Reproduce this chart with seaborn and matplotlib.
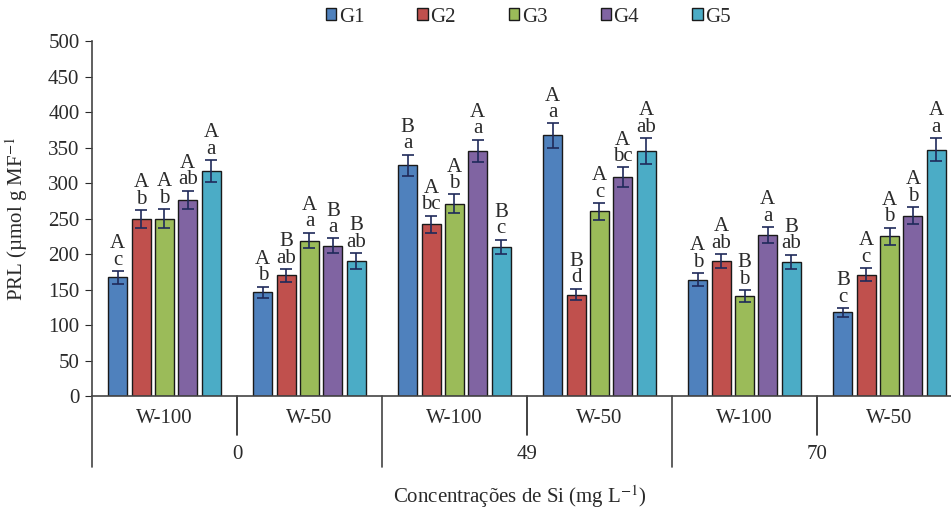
import numpy as np
import pandas as pd
import matplotlib
matplotlib.use("Agg")
import matplotlib.pyplot as plt
import seaborn as sns

# Treatments: water regime within each Si concentration
concentrations = ["0", "49", "70"]
regimes = ["W-100", "W-50"]
groups = ["G1", "G2", "G3", "G4", "G5"]
colors = ["#4F81BD", "#C0504D", "#9BBB59", "#8064A2", "#4BACC6"]

# Proline content per group, one list per genotype (order: 0 W-100, 0 W-50, 49 W-100, 49 W-50, 70 W-100, 70 W-50)
g1_mean = [167, 146, 325, 367, 164, 118]
g2_mean = [249, 170, 242, 143, 190, 171]
g3_mean = [250, 219, 271, 260, 141, 225]
g4_mean = [276, 212, 345, 308, 227, 254]
g5_mean = [317, 190, 210, 345, 189, 347]

g1_err = [9, 8, 15, 17, 9, 6]
g2_err = [13, 9, 12, 8, 10, 9]
g3_err = [13, 11, 13, 12, 8, 12]
g4_err = [13, 10, 16, 14, 11, 12]
g5_err = [15, 11, 10, 18, 10, 16]

# Significance letters: upper case (between regimes) / lower case (between genotypes)
g1_letters = ["A\nc", "A\nb", "B\na", "A\na", "A\nb", "B\nc"]
g2_letters = ["A\nb", "B\nab", "A\nbc", "B\nd", "A\nab", "A\nc"]
g3_letters = ["A\nb", "A\na", "A\nb", "A\nc", "B\nb", "A\nb"]
g4_letters = ["A\nab", "B\na", "A\na", "A\nbc", "A\na", "A\nb"]
g5_letters = ["A\na", "B\nab", "B\nc", "A\nab", "B\nab", "A\na"]

means = [g1_mean, g2_mean, g3_mean, g4_mean, g5_mean]
errs = [g1_err, g2_err, g3_err, g4_err, g5_err]
letters = [g1_letters, g2_letters, g3_letters, g4_letters, g5_letters]

cells = [f"{c}|{r}" for c in concentrations for r in regimes]
rows = []
for g, m, e, l in zip(groups, means, errs, letters):
    for cell, v, ev, lt in zip(cells, m, e, l):
        rows.append({"cell": cell, "group": g, "PRL": v, "err": ev, "label": lt})
df = pd.DataFrame(rows)

sns.set_style("white")
plt.rcParams["font.family"] = ["Liberation Serif", "DejaVu Serif"]
plt.rcParams["mathtext.fontset"] = "stix"

FS = 15
TXT = "#2a2a2a"

fig = plt.figure(figsize=(9.51, 5.13), dpi=100)
ax = fig.add_axes([0.0967, 0.228, 0.9033, 0.692])

sns.barplot(data=df, x="cell", y="PRL", hue="group", order=cells,
            hue_order=groups, palette=colors, errorbar=None,
            width=0.805, gap=0.19, edgecolor="#1a1a1a", linewidth=1.0,
            saturation=1, ax=ax)

# Bars sorted left to right: cell by cell, G1..G5 within each cell
bars = sorted([p for p in ax.patches if p.get_height() > 0], key=lambda p: p.get_x())
for k, bar in enumerate(bars):
    ci, gi = divmod(k, len(groups))
    xc = bar.get_x() + bar.get_width() / 2
    v = means[gi][ci]
    e = errs[gi][ci]
    ax.errorbar(xc, v, yerr=e, fmt="none", ecolor="#1f2a5a",
                elinewidth=1.2, capsize=4.5, capthick=1.2, zorder=4)
    ax.annotate(letters[gi][ci], xy=(xc, v + e), xytext=(0, 1),
                textcoords="offset points", ha="center", va="bottom",
                fontsize=FS, linespacing=0.82, color=TXT)

ax.set_ylim(0, 500)
ax.set_xlim(-0.5, 5.424)
ax.set_yticks(np.arange(0, 501, 50))
ax.tick_params(axis="y", labelsize=FS, length=5, direction="out",
               left=True, colors=TXT, pad=4)
ax.tick_params(axis="x", bottom=False, labelbottom=False)
ax.set_xlabel("")
ax.set_ylabel("PRL (µmol g MF$^{-1}$", fontsize=FS, color=TXT)
ax.yaxis.set_label_coords(-0.072, 0.5)

for side in ["top", "right"]:
    ax.spines[side].set_visible(False)
ax.spines["left"].set_color("#444444")
ax.spines["bottom"].set_color("#444444")
ax.spines["left"].set_linewidth(1.2)
ax.spines["bottom"].set_linewidth(1.2)

# Hierarchical category axis below the plot
tr = ax.get_xaxis_transform()
ax.plot([-0.5, -0.5], [0, -0.2], transform=tr, color="#444444", lw=1.2, clip_on=False)
for xs in [0.5, 2.5, 4.5]:
    ax.plot([xs, xs], [0, -0.11], transform=tr, color="#222222", lw=1.2, clip_on=False)
for xs in [1.5, 3.5]:
    ax.plot([xs, xs], [0, -0.2], transform=tr, color="#444444", lw=1.2, clip_on=False)
for i, cell in enumerate(cells):
    ax.text(i, -0.062, cell.split("|")[1], transform=tr, ha="center", va="center",
            fontsize=FS, color=TXT)
for i, c in enumerate(concentrations):
    ax.text(2 * i + 0.5, -0.165, c, transform=tr, ha="center", va="center",
            fontsize=FS, color=TXT)

fig.text(0.547, 0.031, "Concentrações de Si (mg L$^{-1}$)", ha="center", va="center",
         fontsize=FS, color=TXT)

handles, labels_ = ax.get_legend_handles_labels()
ax.legend(handles, labels_, loc="center", bbox_to_anchor=(0.508, 1.067),
          ncol=5, frameon=False, fontsize=FS, handlelength=0.5,
          handleheight=0.5, handletextpad=0.12, columnspacing=2.55,
          labelcolor=TXT)

fig.savefig("out.png", dpi=100, facecolor="white")
